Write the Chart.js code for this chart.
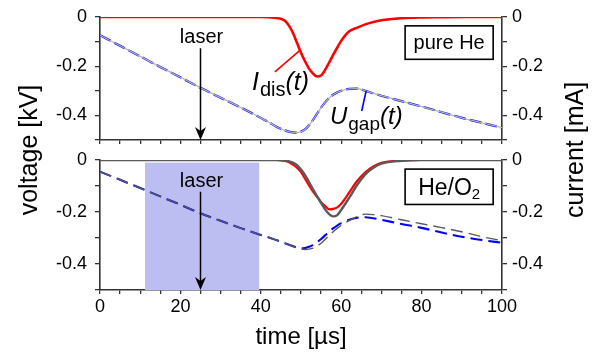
<!DOCTYPE html>
<html><head><meta charset="utf-8">
<script src="https://cdn.jsdelivr.net/npm/chart.js@4.4.1/dist/chart.umd.min.js"></script>
<style>
html,body{margin:0;padding:0;background:#fff;}
#wrap{position:relative;width:597px;height:356px;overflow:hidden;}
canvas{position:absolute;left:0;top:0;}
</style></head><body>
<div id="wrap"><canvas id="cTop" width="597" height="356"></canvas><canvas id="cBot" width="597" height="356"></canvas></div>
<script>
// ---- data (time in µs) ----
const time = [0,5,10,15,20,25,30,35,40,42,44,46,47,48,49,50,51,52,53,54,55,56,57,58,59,60,62,64,66,68,70,75,80,85,90,95,100];
// pure He
const idisHe = [0,0,0,0,0,0,0,0,0,-0.001,-0.004,-0.015,-0.035,-0.065,-0.105,-0.145,-0.18,-0.21,-0.23,-0.242,-0.238,-0.215,-0.185,-0.154,-0.125,-0.097,-0.058,-0.043,-0.03,-0.02,-0.013,-0.005,-0.002,-0.001,0,0,0];
const ugapHe = [-0.074,-0.117,-0.16,-0.203,-0.245,-0.288,-0.328,-0.368,-0.41,-0.428,-0.447,-0.461,-0.466,-0.469,-0.47,-0.466,-0.457,-0.44,-0.418,-0.393,-0.368,-0.347,-0.329,-0.316,-0.307,-0.3,-0.292,-0.291,-0.3,-0.31,-0.32,-0.342,-0.364,-0.387,-0.41,-0.43,-0.45];
// He/O2 (colour) and reference (grey)
const idisO2 = [0,0,0,0,0,0,0,0,0,0,0,-0.004,-0.009,-0.018,-0.03,-0.047,-0.072,-0.098,-0.122,-0.142,-0.162,-0.177,-0.19,-0.188,-0.182,-0.168,-0.125,-0.08,-0.047,-0.025,-0.011,-0.002,0,0,0,0,0];
const idisRef = [0,0,0,0,0,0,0,0,0,0,0,-0.002,-0.005,-0.01,-0.02,-0.037,-0.058,-0.085,-0.113,-0.14,-0.165,-0.19,-0.208,-0.217,-0.212,-0.192,-0.145,-0.095,-0.055,-0.03,-0.014,-0.003,0,0,0,0,0];
const ugapO2 = [-0.045,-0.076,-0.108,-0.14,-0.172,-0.205,-0.234,-0.262,-0.288,-0.298,-0.309,-0.32,-0.326,-0.332,-0.337,-0.34,-0.339,-0.334,-0.326,-0.316,-0.304,-0.29,-0.276,-0.263,-0.252,-0.243,-0.23,-0.222,-0.22,-0.224,-0.23,-0.246,-0.261,-0.279,-0.295,-0.308,-0.318];
const ugapRef = [-0.045,-0.076,-0.108,-0.14,-0.172,-0.205,-0.234,-0.262,-0.288,-0.298,-0.309,-0.32,-0.326,-0.332,-0.338,-0.342,-0.344,-0.343,-0.339,-0.331,-0.32,-0.306,-0.29,-0.276,-0.263,-0.252,-0.233,-0.217,-0.208,-0.21,-0.214,-0.23,-0.245,-0.26,-0.276,-0.295,-0.31];
const yLabelValues = [0,-0.2,-0.4];
const xLabelValues = [0,20,40,60,80,100];
const laserWindow = [11.2, 39.6];   // µs, shaded in He/O2 panel
const laserTime = 25;               // µs, arrows

const FONT = '"Liberation Sans", Arial, sans-serif';
const AX = '#333';

function pts(arr){ return time.map((t,i)=>({x:t,y:arr[i]})); }

function scalesFor(isBottom){
  const grid = {drawOnChartArea:false, drawTicks:true, tickLength:5, color:AX, lineWidth:1.3};
  const border = {display:true, color:AX, width:1.6};
  const yt = {stepSize:0.1, autoSkip:false, color:'#000', padding:8, font:{family:FONT,size:18,lineHeight:1},
    callback:(v)=>{ const k=Math.round(v*10)/10; return yLabelValues.some(a=>Math.abs(a-k)<1e-6)&&Math.abs(v-k)<1e-6 ? (k===0?'0':k.toFixed(1)) : ''; }};
  return {
    x:{type:'linear',min:0,max:100,position:'bottom',grid:{...grid,tickLength:4},border,
      ticks:{display:isBottom,stepSize:5,autoSkip:false,maxRotation:0,color:'#000',padding:4,font:{family:FONT,size:18,lineHeight:1},
        callback:(v)=> xLabelValues.includes(v)? String(v):''},
      title:{display:isBottom,text:'time [µs]',color:'#000',font:{family:FONT,size:24},padding:{top:0,bottom:4}},
      afterFit:(s)=>{ s.height = isBottom?66:6; }},
    y:{type:'linear',min:-0.5,max:0,position:'left',grid,border,ticks:yt,afterFit:(s)=>{s.width=100;}},
    y2:{type:'linear',min:-0.5,max:0,position:'right',grid,border,ticks:{...yt,padding:5},afterFit:(s)=>{s.width=95;}}
  };
}

function drawArrow(ctx, x, y0, y1){
  ctx.save(); ctx.strokeStyle='#000'; ctx.fillStyle='#000'; ctx.lineWidth=1.5;
  ctx.beginPath(); ctx.moveTo(x,y0); ctx.lineTo(x,y1-8); ctx.stroke();
  ctx.beginPath(); ctx.moveTo(x,y1); ctx.lineTo(x-5.5,y1-13); ctx.lineTo(x,y1-9); ctx.lineTo(x+5.5,y1-13); ctx.closePath(); ctx.fill();
  ctx.restore();
}
function drawSubLabel(ctx, x, y, main, sub, tail, mainSize, subSize, italicMain, italicSub, color){
  ctx.save(); ctx.fillStyle=color||'#000'; ctx.textBaseline='alphabetic'; ctx.textAlign='left';
  ctx.font=(italicMain?'italic ':'')+mainSize+'px '+FONT; ctx.fillText(main,x,y); x+=ctx.measureText(main).width+1;
  ctx.font=(italicSub?'italic ':'')+subSize+'px '+FONT; ctx.fillText(sub,x,y+Math.round(subSize*0.3)); x+=ctx.measureText(sub).width;
  ctx.font=(italicMain?'italic ':'')+mainSize+'px '+FONT; ctx.fillText(tail,x,y);
  ctx.restore();
}
function boxLabel(ctx, xs, ys, x0,x1,v0,v1, drawText){
  const L=xs.getPixelForValue(x0), R=xs.getPixelForValue(x1), T=ys.getPixelForValue(v0), B=ys.getPixelForValue(v1);
  ctx.save(); ctx.fillStyle='#fff'; ctx.fillRect(L,T,R-L,B-T); ctx.strokeStyle='#000'; ctx.lineWidth=1.6; ctx.strokeRect(L,T,R-L,B-T); ctx.restore();
  drawText((L+R)/2,(T+B)/2);
}

const topPlugin = {
  id:'topAnnot',
  afterDatasetsDraw(chart){
    const ctx=chart.ctx, xs=chart.scales.x, ys=chart.scales.y;
    const ax=xs.getPixelForValue(laserTime);
    ctx.save(); ctx.font='20px '+FONT; ctx.fillStyle='#000'; ctx.textAlign='center'; ctx.textBaseline='alphabetic';
    ctx.fillText('laser', ax+1, ys.getPixelForValue(-0.105)); ctx.restore();
    drawArrow(ctx, ax, ys.getPixelForValue(-0.127), ys.getPixelForValue(-0.5));
    ctx.save(); ctx.lineWidth=1.6;
    ctx.strokeStyle='#ff0000'; ctx.beginPath(); ctx.moveTo(xs.getPixelForValue(43.5),ys.getPixelForValue(-0.223)); ctx.lineTo(xs.getPixelForValue(49.8),ys.getPixelForValue(-0.135)); ctx.stroke();
    ctx.strokeStyle='#0000ff'; ctx.beginPath(); ctx.moveTo(xs.getPixelForValue(65.1),ys.getPixelForValue(-0.382)); ctx.lineTo(xs.getPixelForValue(66.2),ys.getPixelForValue(-0.301)); ctx.stroke();
    ctx.restore();
    drawSubLabel(ctx, xs.getPixelForValue(37.8), ys.getPixelForValue(-0.296), 'I','dis','(t)',25,20,true,false);
    drawSubLabel(ctx, xs.getPixelForValue(57.2), ys.getPixelForValue(-0.436), 'U','gap','(t)',24,19,true,false);
    boxLabel(ctx, xs, ys, 75.9, 97.8, -0.036, -0.172, (cx,cy)=>{
      ctx.save(); ctx.font='20px '+FONT; ctx.fillStyle='#000'; ctx.textAlign='center'; ctx.textBaseline='middle'; ctx.fillText('pure He',cx,cy+1); ctx.restore();
    });
  }
};

const botPlugin = {
  id:'botAnnot',
  beforeDatasetsDraw(chart){
    const ctx=chart.ctx, xs=chart.scales.x, ys=chart.scales.y;
    const L=xs.getPixelForValue(laserWindow[0]), R=xs.getPixelForValue(laserWindow[1]);
    const T=ys.getPixelForValue(-0.01), B=ys.getPixelForValue(-0.5);
    ctx.save(); ctx.fillStyle='rgb(188,190,242)'; ctx.fillRect(L,T,R-L,B-T); ctx.restore();
  },
  afterDatasetsDraw(chart){
    const ctx=chart.ctx, xs=chart.scales.x, ys=chart.scales.y;
    const ax=xs.getPixelForValue(laserTime);
    ctx.save(); ctx.font='20px '+FONT; ctx.fillStyle='#000'; ctx.textAlign='center'; ctx.textBaseline='alphabetic';
    ctx.fillText('laser', ax+1, ys.getPixelForValue(-0.105)); ctx.restore();
    drawArrow(ctx, ax, ys.getPixelForValue(-0.122), ys.getPixelForValue(-0.5));
    boxLabel(ctx, xs, ys, 75.9, 97.8, -0.035, -0.171, (cx,cy)=>{
      ctx.save(); ctx.fillStyle='#000'; ctx.textBaseline='alphabetic'; ctx.textAlign='left';
      ctx.font='23px '+FONT; const w1=ctx.measureText('He/O').width; ctx.font='15px '+FONT; const w2=ctx.measureText('2').width;
      const x0=cx-(w1+w2)/2, base=cy+8;
      ctx.font='23px '+FONT; ctx.fillText('He/O',x0,base); ctx.font='15px '+FONT; ctx.fillText('2',x0+w1,base+4);
      ctx.restore();
    });
  },
  afterDraw(chart){
    const ctx=chart.ctx;
    ctx.save(); ctx.fillStyle='#000'; ctx.font='25px '+FONT; ctx.textAlign='center'; ctx.textBaseline='alphabetic';
    ctx.translate(37,150); ctx.rotate(-Math.PI/2); ctx.fillText('voltage [kV]',0,0); ctx.restore();
    ctx.save(); ctx.fillStyle='#000'; ctx.font='25px '+FONT; ctx.textAlign='center'; ctx.textBaseline='alphabetic';
    ctx.translate(583,150); ctx.rotate(-Math.PI/2); ctx.fillText('current [mA]',0,0); ctx.restore();
  }
};

const base = {responsive:false, animation:false, events:[], devicePixelRatio:1,
  plugins:{legend:{display:false},tooltip:{enabled:false}},
  elements:{point:{radius:0},line:{cubicInterpolationMode:'monotone',borderCapStyle:'butt'}}};

new Chart(document.getElementById('cTop'), {
  type:'line',
  data:{datasets:[
    {data:pts(ugapHe), borderColor:'#b4b4b4', borderWidth:1.3},
    {data:pts(ugapHe), borderColor:'#0000ff', borderWidth:2.2, borderDash:[12,4]},
    {data:pts(idisHe), borderColor:'#ff0000', borderWidth:2.6}
  ]},
  options:{...base, layout:{autoPadding:false,padding:{top:10,bottom:210,left:0,right:0}}, scales:scalesFor(false)},
  plugins:[topPlugin]
});

new Chart(document.getElementById('cBot'), {
  type:'line',
  data:{datasets:[
    {data:pts(ugapRef), borderColor:'#5a5a5a', borderWidth:1.4, borderDash:[12,6]},
    {data:pts(ugapO2), borderColor:'#0000ff', borderWidth:2.1, borderDash:[12,6]},
    {data:pts(idisRef), borderColor:'#5a5a5a', borderWidth:2.4},
    {data:pts(idisO2), borderColor:'#ff0000', borderWidth:2.2}
  ]},
  options:{...base, layout:{autoPadding:false,padding:{top:160,bottom:0,left:0,right:0}}, scales:scalesFor(true)},
  plugins:[botPlugin]
});
</script></body></html>
